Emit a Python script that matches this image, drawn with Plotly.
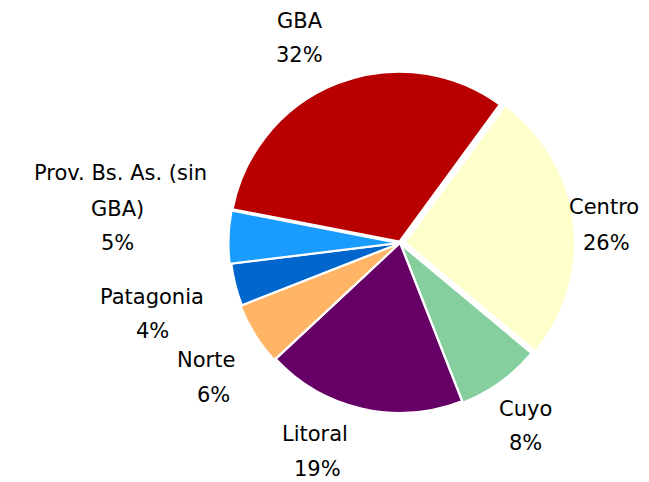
import plotly.graph_objects as go

regiones = ['GBA', 'Centro', 'Cuyo', 'Litoral', 'Norte', 'Patagonia', 'Prov. Bs. As. (sin GBA)']
porcentajes = [32, 26, 8, 19, 6, 4, 5]
colores = ['#B80000', '#FFFFCC', '#85CF9E', '#660066', '#FFB466', '#0066CC', '#1A9CFF']

# etiquetas partidas en renglones (como en el original)
renglones = [['GBA'], ['Centro'], ['Cuyo'], ['Litoral'], ['Norte'], ['Patagonia'],
             ['Prov. Bs. As. (sin', 'GBA)']]

# centro (px, sobre la imagen) de cada renglón; el último renglón es el porcentaje
pos_etiquetas = [
    [(300, 21), (299, 55)],
    [(604, 207), (606, 243)],
    [(525, 409), (525, 443)],
    [(315, 434), (317, 469)],
    [(206, 360), (213, 395)],
    [(152, 297), (152, 331)],
    [(120, 173), (117, 209), (117, 243)],
]

# la página tiene 8 px de margen (body), así que la figura es 8 px más chica
OFF = 8
W, H = 649 - OFF, 482 - OFF

fig = go.Figure(go.Pie(
    labels=regiones,
    values=porcentajes,
    sort=False,
    direction='clockwise',
    rotation=-79,
    pull=[0.01, 0.03, 0.01, 0, 0.01, 0, 0.01],
    marker=dict(colors=colores, line=dict(color='white', width=2)),
    textinfo='none',
    hoverinfo='label+percent',
    domain=dict(x=[0.3385, 0.8846], y=[0.135, 0.873]),
))

for lineas, pct, pos in zip(renglones, porcentajes, pos_etiquetas):
    textos = lineas + [f'{pct}%']
    for t, (px_, py_) in zip(textos, pos):
        fig.add_annotation(
            text=t, x=(px_ - OFF) / W, y=1 - (py_ - OFF) / H, xref='paper', yref='paper',
            xanchor='center', yanchor='middle', showarrow=False,
            font=dict(family='DejaVu Sans', size=21, color='black'),
        )

fig.update_layout(
    width=W, height=H,
    margin=dict(l=0, r=0, t=0, b=0),
    showlegend=False,
    paper_bgcolor='white',
)

fig.write_html('out.html')
